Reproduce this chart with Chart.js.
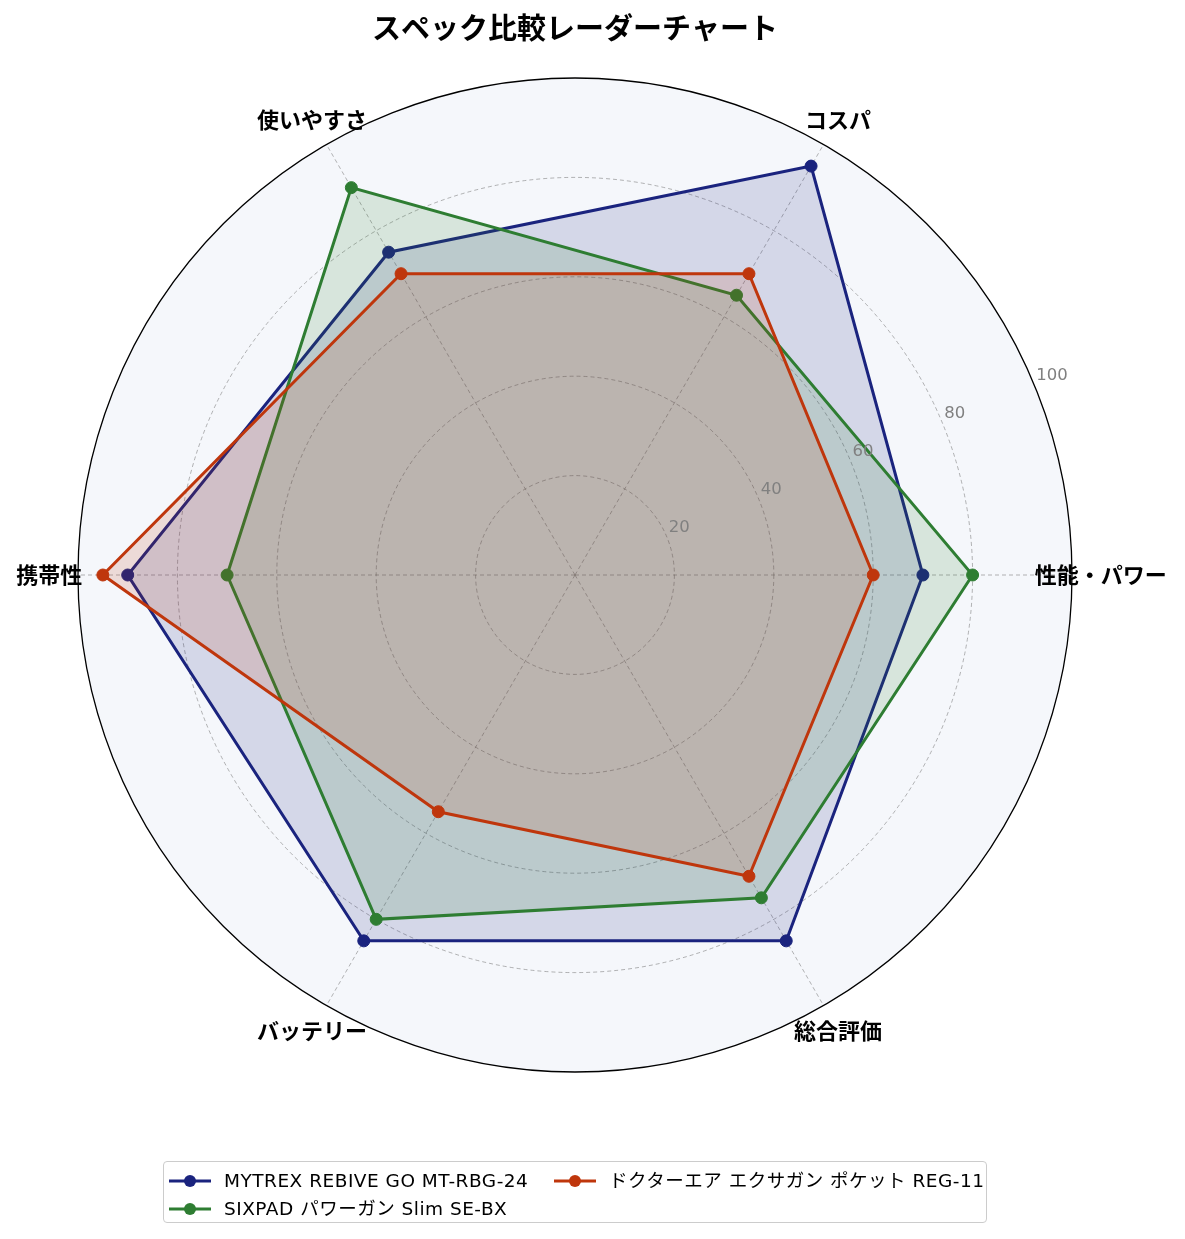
<!DOCTYPE html>
<html>
<head>
<meta charset="utf-8">
<script src="https://cdn.jsdelivr.net/npm/chart.js@4.4.1/dist/chart.umd.min.js"></script>
<style>
  html, body { margin: 0; padding: 0; background: #ffffff; }
  #wrap { position: relative; width: 1185px; height: 1239px; }
  #c { position: absolute; left: 0; top: 0; }
  #legend {
    position: absolute; left: 163px; top: 1161px; width: 822px; height: 60px;
    border: 1px solid #cccccc; border-radius: 4px; background: rgba(255,255,255,0.8);
    font-family: "DejaVu Sans", "Noto Sans CJK JP", sans-serif; font-size: 18.5px; color: #000;
  }
  .item { position: absolute; height: 24px; line-height: 24px; white-space: nowrap; }
  .item svg { position: absolute; left: 0; top: 5px; }
  .item span { position: absolute; left: 55px; top: 0; display: block; height: 24px; line-height: 24px; letter-spacing: 0.5px; }
</style>
</head>
<body>
<div id="wrap">
  <canvas id="c" width="1185" height="1239"></canvas>
  <div id="legend"></div>
</div>
<script>
// Categories in Chart.js drawing order (starting at the right, going clockwise)
const categories = ['性能・パワー', '総合評価', 'バッテリー', '携帯性', '使いやすさ', 'コスパ'];
const seriesNames = ['MYTREX REBIVE GO MT-RBG-24', 'SIXPAD パワーガン Slim SE-BX', 'ドクターエア エクサガン ポケット REG-11'];
const mytrexValues = [70, 85, 85, 90, 75, 95];
const sixpadValues = [80, 75, 80, 70, 90, 65];
const doctorValues = [60, 70, 55, 95, 70, 70];
const tickValues = [20, 40, 60, 80, 100];
const chartTitle = 'スペック比較レーダーチャート';

const colors = ['#1a237e', '#2e7d32', '#bf360c'];
const fills = ['rgba(26,35,126,0.15)', 'rgba(46,125,50,0.15)', 'rgba(191,54,12,0.15)'];
const allValues = [mytrexValues, sixpadValues, doctorValues];
const JP = '"Noto Sans CJK JP", "Noto Sans", sans-serif';

const datasets = allValues.map((vals, i) => ({
  label: seriesNames[i],
  data: vals,
  borderColor: colors[i],
  backgroundColor: fills[i],
  borderWidth: 3,
  fill: true,
  pointRadius: 6,
  pointBackgroundColor: colors[i],
  pointBorderColor: colors[i],
  pointBorderWidth: 1,
  order: 3 - i
}));

const decor = {
  id: 'decor',
  beforeDraw(chart) {
    const s = chart.scales.r;
    const ctx = chart.ctx;
    ctx.save();
    ctx.beginPath();
    ctx.arc(s.xCenter, s.yCenter, s.drawingArea, 0, Math.PI * 2);
    ctx.fillStyle = '#f5f7fb';
    ctx.fill();
    ctx.restore();
  },
  afterDraw(chart) {
    const s = chart.scales.r;
    const ctx = chart.ctx;
    ctx.save();
    // outer frame circle
    ctx.beginPath();
    ctx.arc(s.xCenter, s.yCenter, s.getDistanceFromCenterForValue(100), 0, Math.PI * 2);
    ctx.strokeStyle = '#000000';
    ctx.lineWidth = 1.3;
    ctx.stroke();
    // radial tick labels at 22.5 degrees
    ctx.fillStyle = '#808080';
    ctx.font = '16.5px "DejaVu Sans", sans-serif';
    ctx.textAlign = 'left';
    ctx.textBaseline = 'middle';
    const a = 22.5 * Math.PI / 180;
    tickValues.forEach(v => {
      const d = s.getDistanceFromCenterForValue(v);
      ctx.fillText(String(v), s.xCenter + d * Math.cos(a) + 2, s.yCenter - d * Math.sin(a) - 9.5);
    });
    // category labels
    ctx.fillStyle = '#000000';
    ctx.textAlign = 'center';
    ctx.font = 'bold 22px ' + JP;
    categories.forEach((c, i) => {
      const p = s.getPointPositionForValue(i, 105.8);
      ctx.fillText(c, p.x, p.y);
    });
    // title
    ctx.font = 'bold 29px ' + JP;
    ctx.fillText(chartTitle, s.xCenter, 28);
    ctx.restore();
  }
};

new Chart(document.getElementById('c'), {
  type: 'radar',
  data: { labels: categories, datasets },
  options: {
    responsive: false,
    animation: false,
    layout: { padding: { left: 78, top: 78, right: 113, bottom: 167 } },
    plugins: { legend: { display: false }, tooltip: { enabled: false }, title: { display: false } },
    scales: {
      r: {
        min: 0, max: 100, startAngle: 90,
        ticks: { display: false, stepSize: 20 },
        pointLabels: { display: false },
        grid: {
          circular: true,
          color: ctx => (ctx.tick && ctx.tick.value === 100) ? 'rgba(0,0,0,0)' : 'rgba(120,120,120,0.7)',
          lineWidth: 0.8
        },
        border: { dash: [4, 3] },
        angleLines: { color: 'rgba(120,120,120,0.7)', lineWidth: 0.8, borderDash: [4, 3] }
      }
    }
  },
  plugins: [decor]
});

// HTML legend (column-wise, 2 columns like the reference)
const legend = document.getElementById('legend');
const positions = [[5, 7], [5, 35], [390, 7]];
seriesNames.forEach((name, i) => {
  const it = document.createElement('div');
  it.className = 'item';
  it.style.left = positions[i][0] + 'px';
  it.style.top = positions[i][1] + 'px';
  it.innerHTML = '<svg width="42" height="14"><line x1="0" y1="7" x2="42" y2="7" stroke="' + colors[i] +
    '" stroke-width="3"/><circle cx="21" cy="7" r="6" fill="' + colors[i] + '"/></svg>';
  const t = document.createElement('span');
  t.textContent = name;
  it.appendChild(t);
  legend.appendChild(it);
});
</script>
</body>
</html>
